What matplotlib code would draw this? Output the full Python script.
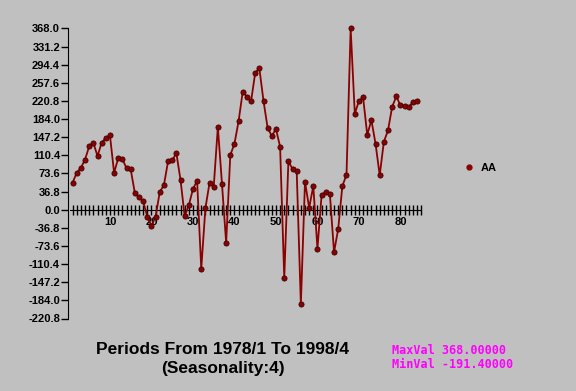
import numpy as np
import matplotlib.pyplot as plt
from matplotlib.lines import Line2D

periods = np.arange(1, 85)
aa = [55, 75, 85, 102, 129, 136, 109, 136, 146, 151,
      75, 105, 103, 84, 82, 34, 25, 17, -14, -33,
      -14, 36, 50, 98, 100, 115, 61, -13, 9, 42,
      59, -120, 3, 55, 46, 168, 52, -67, 111, 134,
      180, 240, 229, 220, 278, 287, 221, 166, 150, 164,
      128, -139, 98, 83, 78, -191.4, 57, 4, 48, -79,
      30, 36, 31, -86, -39, 48, 71, 368, 195, 221,
      228, 152, 182, 134, 70, 138, 161, 209, 230, 212,
      211, 208, 219, 221]
yticks = np.round(np.arange(-220.8, 368.01, 36.8), 1)
xlabels = [10, 20, 30, 40, 50, 60, 70, 80]

bg = '#c0c0c0'
red = '#8b0000'

fig = plt.figure(figsize=(5.76, 3.91), dpi=100, facecolor=bg)
ax = fig.add_axes([68.45 / 576, 1 - 318.5 / 391, 371.55 / 576, 290 / 391])
ax.set_facecolor(bg)

ax.plot(periods, aa, color=red, lw=1.3, marker='o', ms=3.7,
        mfc=red, mec='#400000', mew=0.6, zorder=3, clip_on=False)

ax.set_xlim(0, 371.55 / 4.15)
ax.set_ylim(-220.8, 368.0)

for s in ['top', 'right']:
    ax.spines[s].set_visible(False)
ax.spines['left'].set_color('black')
ax.spines['bottom'].set_position(('data', 0))
ax.spines['bottom'].set_bounds(0.4, 85)

ax.set_yticks(yticks)
ax.set_yticklabels([f'{v:.1f}' for v in yticks], fontsize=8, fontweight='bold',
                   family='Liberation Sans')
ax.tick_params(axis='y', length=5, width=1, pad=1)

ax.set_xticks(xlabels)
ax.set_xticklabels([str(v) for v in xlabels], fontsize=8, fontweight='bold',
                   family='Liberation Sans')
ax.set_xticks(np.arange(1, 86), minor=True)
ax.tick_params(axis='x', which='both', direction='inout', length=7, width=1, pad=2)

ax.legend([Line2D([], [], ls='none', marker='o', ms=3.5, mfc=red, mec=red)], ['AA'],
          loc='center left', bbox_to_anchor=(455 / 576, 1 - 168 / 391),
          bbox_transform=fig.transFigure, frameon=False, handlelength=0.8,
          handletextpad=0.6, prop={'family': 'Liberation Sans', 'weight': 'bold', 'size': 8})

fig.text(223 / 576, 1 - 349 / 391, 'Periods From 1978/1 To 1998/4', ha='center', va='center',
         fontsize=12.5, fontweight='bold', family='Liberation Sans')
fig.text(223 / 576, 1 - 369 / 391, '(Seasonality:4)', ha='center', va='center',
         fontsize=12.5, fontweight='bold', family='Liberation Sans')
fig.text(392 / 576, 1 - 351 / 391, 'MaxVal 368.00000', ha='left', va='center',
         fontsize=8.5, fontweight='bold', family='DejaVu Sans Mono', color='#ff00ff')
fig.text(392 / 576, 1 - 364 / 391, 'MinVal -191.40000', ha='left', va='center',
         fontsize=8.5, fontweight='bold', family='DejaVu Sans Mono', color='#ff00ff')

fig.savefig('out.png', dpi=100, facecolor=bg)
